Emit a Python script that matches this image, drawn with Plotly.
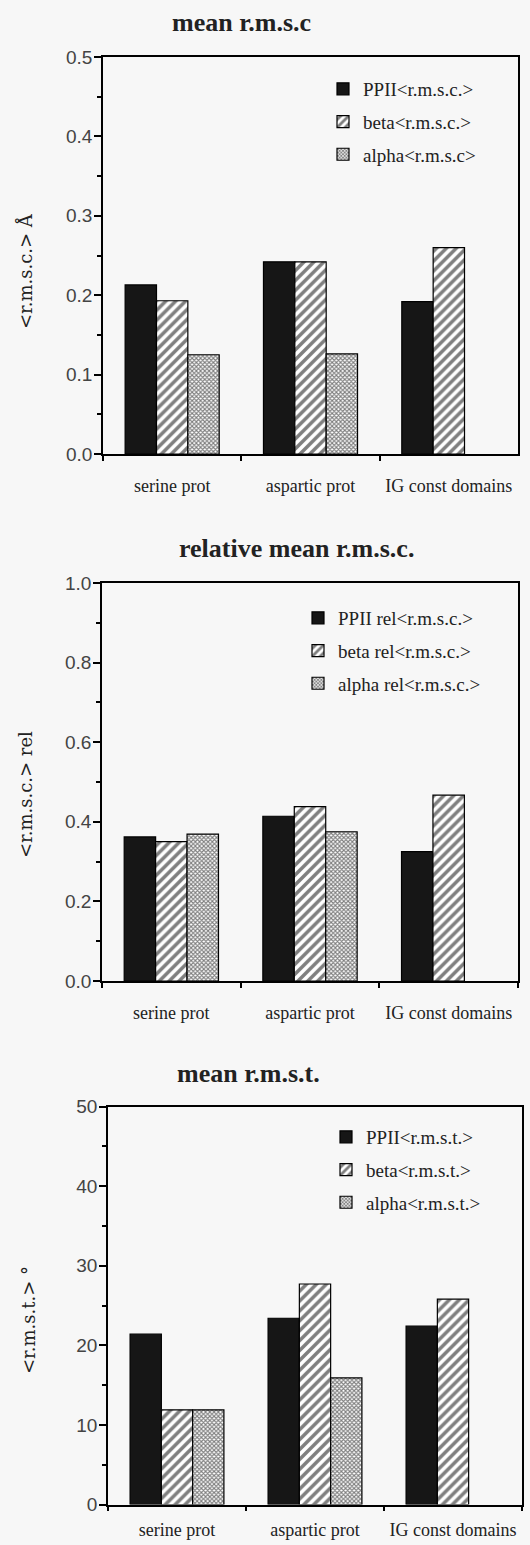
import plotly.graph_objects as go

categories = ["serine prot", "aspartic prot", "IG const domains"]

rmsc_ppii = [0.213, 0.242, 0.192]
rmsc_beta = [0.193, 0.242, 0.260]
rmsc_alpha = [0.125, 0.126, None]

rel_ppii = [0.362, 0.414, 0.325]
rel_beta = [0.350, 0.438, 0.467]
rel_alpha = [0.369, 0.375, None]

rmst_ppii = [21.4, 23.4, 22.4]
rmst_beta = [11.9, 27.7, 25.8]
rmst_alpha = [11.9, 15.9, None]

names1 = ["PPII&lt;r.m.s.c.&gt;", "beta&lt;r.m.s.c.&gt;", "alpha&lt;r.m.s.c&gt;"]
names2 = ["PPII rel&lt;r.m.s.c.&gt;", "beta rel&lt;r.m.s.c.&gt;", "alpha rel&lt;r.m.s.c.&gt;"]
names3 = ["PPII&lt;r.m.s.t.&gt;", "beta&lt;r.m.s.t.&gt;", "alpha&lt;r.m.s.t.&gt;"]

titles = ["mean r.m.s.c", "relative mean r.m.s.c.", "mean r.m.s.t."]
ytitles = ["&lt;r.m.s.c.&gt; Å", "&lt;r.m.s.c.&gt; rel", "&lt;r.m.s.t.&gt; °"]

W, H = 530, 1545
BG = "#f7f7f7"
SERIF = "Liberation Serif"
SERIF2 = "DejaVu Serif"
SANS = "Liberation Sans"

def px_x(v):
    return v / W

def px_y(v):
    return 1 - v / H

# panel pixel boxes: left, right, top, bottom
boxes = [(103, 518, 57, 454), (102, 518, 583, 981), (108, 522, 1106.5, 1504.5)]
yranges = [[0, 0.5], [0, 1.0], [0, 50]]
ydticks = [0.1, 0.2, 10]
yminor = [0.05, 0.1, 5]
yfmt = [".1f", ".1f", "d"]
xstandoff = [15, 15, 8]
title_pos = [(241, 22), (296, 548), (248, 1073)]
ytitle_pos = [(25, 271), (25, 795), (28, 1320)]
legend_pos = [(323, 70), (298, 599), (326, 1118)]

styles = [
    dict(color="#161616"),
    dict(color="white", pattern=dict(shape="/", fgcolor="black", bgcolor="white", size=7, solidity=0.5)),
    dict(color="white", pattern=dict(shape="x", fgcolor="black", bgcolor="white", size=3, solidity=0.6)),
]

data_sets = [
    (rmsc_ppii, rmsc_beta, rmsc_alpha, names1),
    (rel_ppii, rel_beta, rel_alpha, names2),
    (rmst_ppii, rmst_beta, rmst_alpha, names3),
]

fig = go.Figure()
for i, (a, b, c, names) in enumerate(data_sets):
    sfx = "" if i == 0 else str(i + 1)
    for j, vals in enumerate([a, b, c]):
        st = styles[j]
        marker = dict(color=st["color"], line=dict(color="black", width=1.2))
        if "pattern" in st:
            marker["pattern"] = st["pattern"]
        fig.add_trace(go.Bar(
            x=categories, y=vals, name=names[j],
            xaxis="x" + sfx, yaxis="y" + sfx,
            marker=marker, legend="legend" + sfx,
            legendgroup=f"g{i}{j}",
        ))

layout = dict(
    width=W, height=H, margin=dict(l=0, r=0, t=0, b=0, autoexpand=False),
    paper_bgcolor=BG, plot_bgcolor=BG, barmode="group", bargap=0.32, bargroupgap=0,
    showlegend=True,
)

annotations = []
for i in range(3):
    sfx = "" if i == 0 else str(i + 1)
    l, r, t, b = boxes[i]
    layout["xaxis" + sfx] = dict(
        domain=[px_x(l), px_x(r)], anchor="y" + sfx, automargin=False, tickangle=0,
        showline=True, linecolor="black", linewidth=1.5, mirror=True,
        ticks="outside", tickson="boundaries", ticklen=5, tickcolor="black", tickwidth=1.5,
        tickfont=dict(family=SERIF, size=18, color="#222"), ticklabelstandoff=xstandoff[i],
        showgrid=False, fixedrange=True,
    )
    layout["yaxis" + sfx] = dict(
        domain=[px_y(b), px_y(t)], anchor="x" + sfx, range=yranges[i], automargin=False,
        showline=True, linecolor="black", linewidth=1.5, mirror=True,
        ticks="outside", ticklen=7, tickcolor="black", tickwidth=1.5,
        dtick=ydticks[i], tick0=0, tickformat=yfmt[i],
        minor=dict(ticks="outside", ticklen=4, dtick=yminor[i], tickcolor="black", tickwidth=1.5, showgrid=False),
        tickfont=dict(family=SANS, size=19, color="#444"), ticklabelstandoff=-2,
        showgrid=False, zeroline=False, fixedrange=True,
    )
    lx, ly = legend_pos[i]
    layout["legend" + sfx] = dict(
        x=px_x(lx), y=px_y(ly), xanchor="left", yanchor="top",
        bgcolor="rgba(0,0,0,0)", font=dict(family=SERIF, size=19, color="#222"),
        tracegroupgap=5, itemclick=False, itemdoubleclick=False,
    )
    tx, ty = title_pos[i]
    annotations.append(dict(
        text="<b>" + titles[i] + "</b>", x=px_x(tx), y=px_y(ty), xref="paper", yref="paper",
        showarrow=False, font=dict(family=SERIF, size=26, color="#222"),
        xanchor="center", yanchor="middle",
    ))
    yx, yy = ytitle_pos[i]
    annotations.append(dict(
        text=ytitles[i], x=px_x(yx), y=px_y(yy), xref="paper", yref="paper",
        showarrow=False, textangle=-90, font=dict(family=SERIF2, size=18, color="#222"),
        xanchor="center", yanchor="middle",
    ))

layout["annotations"] = annotations
fig.update_layout(**layout)
fig.write_html("out.html")
